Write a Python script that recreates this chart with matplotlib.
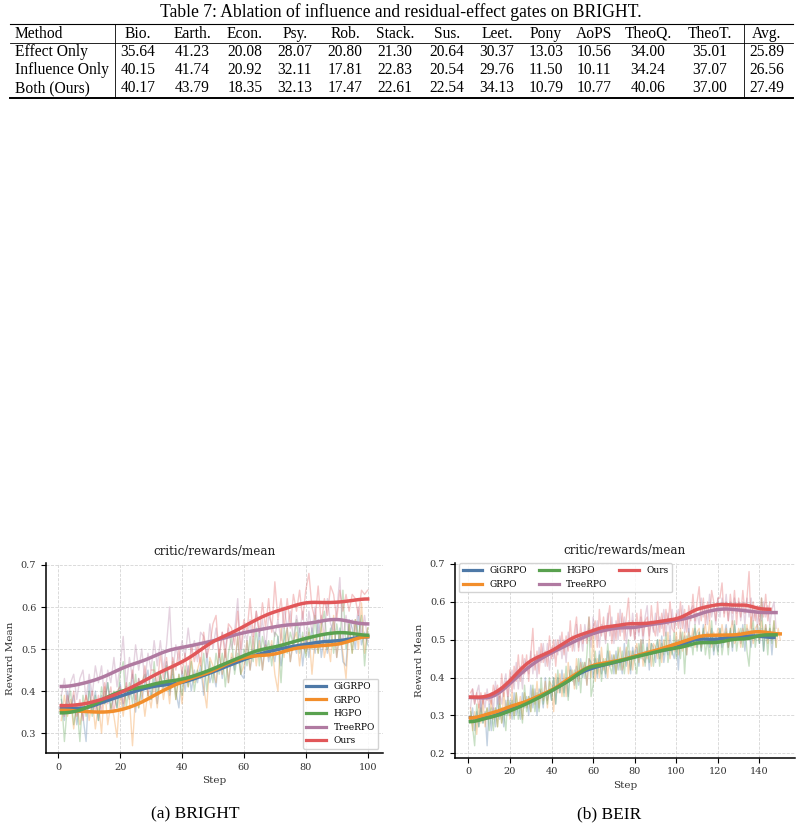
import numpy as np
import matplotlib
matplotlib.use("Agg")
import matplotlib.pyplot as plt
from matplotlib.lines import Line2D

W, H = 802, 825

# ---- Table 7 ----
table_title = "Table 7: Ablation of influence and residual-effect gates on BRIGHT."
table_cols = ["Bio.", "Earth.", "Econ.", "Psy.", "Rob.", "Stack.", "Sus.", "Leet.",
              "Pony", "AoPS", "TheoQ.", "TheoT.", "Avg."]
table_rows = ["Effect Only", "Influence Only", "Both (Ours)"]
effect_only = [35.64, 41.23, 20.08, 28.07, 20.80, 21.30, 20.64, 30.37, 13.03, 10.56, 34.00, 35.01, 25.89]
influence_only = [40.15, 41.74, 20.92, 32.11, 17.81, 22.83, 20.54, 29.76, 11.50, 10.11, 34.24, 37.07, 26.56]
both_ours = [40.17, 43.79, 18.35, 32.13, 17.47, 22.61, 22.54, 34.13, 10.79, 10.77, 40.06, 37.00, 27.49]

# ---- reward curves ----
methods = ["GiGRPO", "GRPO", "HGPO", "TreeRPO", "Ours"]
colors = ["#4e79a7", "#f28e2b", "#59a14f", "#b07aa1", "#e15759"]

# (a) BRIGHT, steps 1..100
bright_gigrpo = [0.38, 0.33, 0.40, 0.35, 0.39, 0.32, 0.37, 0.34, 0.28, 0.42,
                 0.35, 0.40, 0.33, 0.39, 0.37, 0.42, 0.35, 0.39, 0.36, 0.42,
                 0.36, 0.41, 0.38, 0.44, 0.35, 0.43, 0.38, 0.42, 0.45, 0.38,
                 0.43, 0.37, 0.44, 0.40, 0.47, 0.39, 0.44, 0.40, 0.36, 0.45,
                 0.40, 0.46, 0.40, 0.45, 0.42, 0.46, 0.39, 0.49, 0.42, 0.45,
                 0.41, 0.49, 0.43, 0.50, 0.42, 0.48, 0.45, 0.53, 0.44, 0.43,
                 0.52, 0.45, 0.50, 0.48, 0.54, 0.45, 0.52, 0.47, 0.51, 0.47,
                 0.53, 0.46, 0.52, 0.55, 0.47, 0.52, 0.49, 0.55, 0.46, 0.53,
                 0.48, 0.55, 0.49, 0.57, 0.48, 0.53, 0.49, 0.54, 0.57, 0.48,
                 0.55, 0.47, 0.46, 0.57, 0.55, 0.50, 0.58, 0.51, 0.54, 0.51]
bright_grpo = [0.33, 0.39, 0.34, 0.38, 0.31, 0.37, 0.32, 0.36, 0.39, 0.33,
               0.38, 0.31, 0.37, 0.30, 0.41, 0.32, 0.37, 0.34, 0.29, 0.40,
               0.34, 0.41, 0.38, 0.27, 0.39, 0.36, 0.41, 0.34, 0.40, 0.36,
               0.42, 0.36, 0.44, 0.38, 0.43, 0.37, 0.47, 0.38, 0.44, 0.37,
               0.45, 0.41, 0.48, 0.42, 0.45, 0.48, 0.41, 0.36, 0.48, 0.46,
               0.42, 0.50, 0.44, 0.50, 0.42, 0.49, 0.46, 0.53, 0.44, 0.46,
               0.52, 0.45, 0.53, 0.46, 0.52, 0.45, 0.51, 0.48, 0.52, 0.44,
               0.40, 0.55, 0.48, 0.55, 0.47, 0.52, 0.54, 0.46, 0.53, 0.49,
               0.54, 0.44, 0.53, 0.49, 0.56, 0.48, 0.52, 0.47, 0.58, 0.48,
               0.54, 0.49, 0.43, 0.56, 0.49, 0.57, 0.50, 0.61, 0.49, 0.55]
bright_hgpo = [0.39, 0.28, 0.37, 0.40, 0.32, 0.37, 0.28, 0.39, 0.34, 0.40,
               0.34, 0.39, 0.33, 0.41, 0.37, 0.42, 0.36, 0.40, 0.36, 0.44,
               0.47, 0.36, 0.42, 0.37, 0.44, 0.36, 0.42, 0.44, 0.39, 0.38,
               0.47, 0.39, 0.44, 0.41, 0.46, 0.40, 0.46, 0.38, 0.44, 0.39,
               0.46, 0.41, 0.47, 0.40, 0.45, 0.43, 0.49, 0.40, 0.47, 0.42,
               0.49, 0.44, 0.49, 0.41, 0.49, 0.53, 0.44, 0.49, 0.44, 0.50,
               0.46, 0.53, 0.47, 0.55, 0.46, 0.53, 0.49, 0.52, 0.46, 0.54,
               0.53, 0.42, 0.55, 0.49, 0.54, 0.51, 0.57, 0.49, 0.54, 0.48,
               0.55, 0.50, 0.58, 0.49, 0.55, 0.59, 0.50, 0.55, 0.49, 0.56,
               0.51, 0.64, 0.50, 0.56, 0.49, 0.57, 0.53, 0.58, 0.46, 0.55]
bright_treerpo = [0.39, 0.43, 0.37, 0.42, 0.44, 0.38, 0.43, 0.45, 0.38, 0.44,
                  0.39, 0.46, 0.42, 0.46, 0.38, 0.45, 0.42, 0.48, 0.41, 0.46,
                  0.53, 0.41, 0.48, 0.43, 0.51, 0.45, 0.50, 0.42, 0.49, 0.45,
                  0.52, 0.46, 0.52, 0.45, 0.51, 0.60, 0.44, 0.51, 0.47, 0.52,
                  0.48, 0.55, 0.49, 0.52, 0.47, 0.54, 0.53, 0.48, 0.56, 0.50,
                  0.55, 0.48, 0.54, 0.50, 0.55, 0.50, 0.54, 0.62, 0.48, 0.55,
                  0.52, 0.57, 0.50, 0.59, 0.53, 0.57, 0.50, 0.58, 0.56, 0.53,
                  0.57, 0.52, 0.60, 0.55, 0.59, 0.52, 0.58, 0.54, 0.59, 0.51,
                  0.59, 0.54, 0.60, 0.53, 0.58, 0.53, 0.62, 0.56, 0.54, 0.59,
                  0.67, 0.52, 0.58, 0.53, 0.57, 0.54, 0.60, 0.53, 0.58, 0.52]
bright_ours = [0.37, 0.34, 0.39, 0.35, 0.40, 0.34, 0.38, 0.33, 0.39, 0.36,
               0.40, 0.35, 0.39, 0.35, 0.42, 0.37, 0.41, 0.35, 0.40, 0.41,
               0.37, 0.42, 0.39, 0.45, 0.38, 0.43, 0.40, 0.46, 0.39, 0.45,
               0.45, 0.41, 0.49, 0.43, 0.48, 0.41, 0.48, 0.45, 0.50, 0.44,
               0.49, 0.43, 0.51, 0.47, 0.51, 0.46, 0.54, 0.48, 0.51, 0.56,
               0.58, 0.48, 0.54, 0.48, 0.56, 0.55, 0.51, 0.59, 0.50, 0.57,
               0.54, 0.62, 0.53, 0.59, 0.54, 0.61, 0.55, 0.62, 0.54, 0.66,
               0.57, 0.62, 0.55, 0.62, 0.55, 0.63, 0.59, 0.64, 0.57, 0.64,
               0.68, 0.60, 0.57, 0.65, 0.56, 0.62, 0.58, 0.65, 0.63, 0.57,
               0.64, 0.59, 0.63, 0.59, 0.63, 0.62, 0.58, 0.64, 0.63, 0.64]

# (b) BEIR, steps 1..150 (runs end at different steps)
beir_gigrpo = [0.29, 0.32, 0.26, 0.31, 0.27, 0.34, 0.28, 0.31, 0.22, 0.33,
               0.26, 0.32, 0.27, 0.35, 0.29, 0.32, 0.27, 0.34, 0.30, 0.34,
               0.29, 0.36, 0.30, 0.33, 0.29, 0.36, 0.32, 0.35, 0.30, 0.38,
               0.32, 0.37, 0.30, 0.37, 0.36, 0.32, 0.40, 0.34, 0.37, 0.34,
               0.40, 0.33, 0.40, 0.36, 0.42, 0.36, 0.40, 0.35, 0.43, 0.41,
               0.38, 0.43, 0.38, 0.45, 0.40, 0.44, 0.38, 0.45, 0.44, 0.40,
               0.45, 0.40, 0.47, 0.41, 0.44, 0.40, 0.47, 0.43, 0.46, 0.41,
               0.47, 0.42, 0.45, 0.41, 0.49, 0.43, 0.47, 0.41, 0.48, 0.45,
               0.48, 0.43, 0.50, 0.45, 0.44, 0.49, 0.42, 0.49, 0.48, 0.44,
               0.50, 0.45, 0.51, 0.44, 0.48, 0.46, 0.51, 0.47, 0.45, 0.50,
               0.42, 0.52, 0.48, 0.51, 0.46, 0.53, 0.48, 0.51, 0.53, 0.48,
               0.52, 0.47, 0.54, 0.49, 0.52, 0.48, 0.53, 0.46, 0.51, 0.47,
               0.53, 0.48, 0.51, 0.54, 0.48, 0.53, 0.47, 0.54, 0.50, 0.52,
               0.49, 0.54, 0.47, 0.53, 0.52, 0.48, 0.53, 0.50, 0.54, 0.49,
               0.53, 0.47, 0.54, 0.50, 0.53, 0.46, 0.53]
beir_grpo = [0.32, 0.26, 0.31, 0.25, 0.33, 0.28, 0.34, 0.27, 0.32, 0.29,
             0.34, 0.29, 0.32, 0.27, 0.33, 0.28, 0.36, 0.31, 0.34, 0.29,
             0.36, 0.30, 0.36, 0.32, 0.35, 0.29, 0.36, 0.32, 0.35, 0.31,
             0.37, 0.33, 0.39, 0.32, 0.37, 0.34, 0.39, 0.32, 0.39, 0.38,
             0.31, 0.41, 0.36, 0.41, 0.35, 0.41, 0.35, 0.44, 0.39, 0.42,
             0.37, 0.45, 0.39, 0.44, 0.41, 0.44, 0.38, 0.45, 0.40, 0.53,
             0.39, 0.45, 0.40, 0.48, 0.42, 0.45, 0.40, 0.47, 0.43, 0.46,
             0.41, 0.46, 0.48, 0.42, 0.44, 0.48, 0.41, 0.47, 0.42, 0.47,
             0.49, 0.44, 0.50, 0.43, 0.47, 0.45, 0.50, 0.43, 0.49, 0.48,
             0.45, 0.50, 0.44, 0.50, 0.47, 0.52, 0.45, 0.49, 0.47, 0.52,
             0.46, 0.53, 0.47, 0.52, 0.46, 0.52, 0.49, 0.53, 0.48, 0.52,
             0.53, 0.48, 0.52, 0.54, 0.49, 0.55, 0.48, 0.52, 0.49, 0.53,
             0.49, 0.54, 0.50, 0.53, 0.48, 0.52, 0.55, 0.49, 0.50, 0.53,
             0.48, 0.53, 0.50, 0.54, 0.50, 0.56, 0.49, 0.53, 0.54, 0.50,
             0.55, 0.51, 0.54, 0.49, 0.53, 0.50, 0.55, 0.48, 0.53, 0.50]
beir_hgpo = [0.31, 0.27, 0.22, 0.33, 0.27, 0.32, 0.28, 0.30, 0.32, 0.26,
             0.32, 0.26, 0.32, 0.27, 0.35, 0.28, 0.31, 0.26, 0.35, 0.30,
             0.34, 0.29, 0.36, 0.29, 0.33, 0.28, 0.38, 0.31, 0.35, 0.31,
             0.38, 0.31, 0.36, 0.31, 0.40, 0.33, 0.36, 0.33, 0.40, 0.34,
             0.40, 0.33, 0.42, 0.36, 0.39, 0.35, 0.43, 0.34, 0.42, 0.39,
             0.42, 0.37, 0.45, 0.36, 0.44, 0.40, 0.46, 0.56, 0.35, 0.38,
             0.47, 0.41, 0.46, 0.39, 0.45, 0.41, 0.49, 0.43, 0.41, 0.46,
             0.41, 0.48, 0.42, 0.47, 0.41, 0.46, 0.50, 0.42, 0.47, 0.44,
             0.41, 0.49, 0.45, 0.50, 0.43, 0.48, 0.44, 0.49, 0.43, 0.48,
             0.50, 0.43, 0.49, 0.46, 0.52, 0.44, 0.48, 0.46, 0.52, 0.45,
             0.50, 0.45, 0.52, 0.41, 0.51, 0.48, 0.51, 0.46, 0.54, 0.47,
             0.52, 0.47, 0.53, 0.46, 0.50, 0.45, 0.55, 0.47, 0.50, 0.46,
             0.53, 0.46, 0.50, 0.52, 0.46, 0.53, 0.48, 0.55, 0.47, 0.51,
             0.53, 0.48, 0.54, 0.47, 0.43, 0.52, 0.55, 0.48, 0.52, 0.49,
             0.61, 0.47, 0.53, 0.46, 0.54, 0.49, 0.55, 0.48]
beir_treerpo = [0.32, 0.37, 0.33, 0.36, 0.38, 0.31, 0.35, 0.32, 0.37, 0.33,
                0.36, 0.31, 0.39, 0.33, 0.36, 0.33, 0.38, 0.41, 0.34, 0.39,
                0.42, 0.37, 0.44, 0.37, 0.43, 0.37, 0.45, 0.43, 0.41, 0.47,
                0.41, 0.46, 0.40, 0.48, 0.44, 0.49, 0.43, 0.49, 0.42, 0.48,
                0.45, 0.50, 0.46, 0.51, 0.45, 0.50, 0.44, 0.52, 0.48, 0.51,
                0.47, 0.54, 0.48, 0.51, 0.47, 0.54, 0.50, 0.53, 0.48, 0.56,
                0.50, 0.55, 0.48, 0.54, 0.53, 0.49, 0.57, 0.51, 0.56, 0.49,
                0.55, 0.50, 0.58, 0.52, 0.56, 0.49, 0.55, 0.51, 0.57, 0.50,
                0.54, 0.51, 0.56, 0.49, 0.56, 0.59, 0.51, 0.55, 0.52, 0.57,
                0.51, 0.56, 0.53, 0.58, 0.51, 0.57, 0.51, 0.58, 0.53, 0.56,
                0.58, 0.53, 0.59, 0.52, 0.56, 0.52, 0.58, 0.59, 0.54, 0.57,
                0.54, 0.61, 0.56, 0.59, 0.54, 0.62, 0.56, 0.59, 0.54, 0.61,
                0.56, 0.61, 0.57, 0.62, 0.55, 0.60, 0.54, 0.61, 0.57, 0.60,
                0.55, 0.60, 0.54, 0.61, 0.56, 0.61, 0.55, 0.58, 0.54, 0.59,
                0.55, 0.60, 0.56, 0.59, 0.54, 0.58, 0.60, 0.53]
beir_ours = [0.36, 0.37, 0.33, 0.36, 0.32, 0.36, 0.33, 0.36, 0.34, 0.35,
             0.33, 0.38, 0.35, 0.38, 0.33, 0.41, 0.35, 0.39, 0.35, 0.42,
             0.36, 0.43, 0.39, 0.46, 0.39, 0.46, 0.41, 0.46, 0.39, 0.46,
             0.53, 0.42, 0.47, 0.41, 0.49, 0.44, 0.47, 0.43, 0.51, 0.45,
             0.50, 0.43, 0.50, 0.47, 0.52, 0.46, 0.51, 0.47, 0.55, 0.47,
             0.52, 0.56, 0.47, 0.54, 0.49, 0.52, 0.49, 0.56, 0.50, 0.53,
             0.55, 0.48, 0.58, 0.51, 0.56, 0.50, 0.55, 0.59, 0.49, 0.54,
             0.50, 0.57, 0.51, 0.57, 0.50, 0.56, 0.61, 0.51, 0.55, 0.50,
             0.57, 0.52, 0.58, 0.51, 0.55, 0.56, 0.50, 0.59, 0.53, 0.51,
             0.60, 0.52, 0.57, 0.51, 0.58, 0.54, 0.60, 0.53, 0.52, 0.57,
             0.53, 0.60, 0.53, 0.58, 0.52, 0.59, 0.55, 0.62, 0.55, 0.60,
             0.64, 0.55, 0.61, 0.54, 0.60, 0.55, 0.63, 0.60, 0.55, 0.61,
             0.61, 0.65, 0.56, 0.60, 0.55, 0.62, 0.57, 0.63, 0.54, 0.61,
             0.56, 0.63, 0.57, 0.61, 0.68, 0.53, 0.60, 0.55, 0.59, 0.54,
             0.61, 0.56, 0.62, 0.55, 0.60]

bright = [bright_gigrpo, bright_grpo, bright_hgpo, bright_treerpo, bright_ours]
beir = [beir_gigrpo, beir_grpo, beir_hgpo, beir_treerpo, beir_ours]


def smooth(y, sigma=4.5):
    # gaussian smoothing of the logged rewards (reflect at the ends)
    y = np.asarray(y, dtype=float)
    r = int(3 * sigma)
    k = np.exp(-0.5 * (np.arange(-r, r + 1) / sigma) ** 2)
    k /= k.sum()
    return np.convolve(np.pad(y, r, mode="reflect"), k, mode="valid")


def fx(px):
    return px / W


def fy(py):
    return 1 - py / H


fig = plt.figure(figsize=(W / 100, H / 100), dpi=100)

# ---- table ----
serif = "Liberation Serif"
fig.text(fx(401), fy(12), table_title, ha="center", va="center", fontsize=12.7, family=serif)
col_x = [138, 192, 245, 295, 345, 395, 447, 497, 546, 594, 648, 710, 767]
row_y = [52, 70, 88]
fs = 11.2
fig.text(fx(15), fy(34), "Method", ha="left", va="center", fontsize=fs, family=serif)
for cx, name in zip(col_x, table_cols):
    fig.text(fx(cx), fy(34), name, ha="center", va="center", fontsize=fs, family=serif)
for ry, label, vals in zip(row_y, table_rows, [effect_only, influence_only, both_ours]):
    fig.text(fx(15), fy(ry), label, ha="left", va="center", fontsize=fs, family=serif)
    for cx, v in zip(col_x, vals):
        fig.text(fx(cx), fy(ry), f"{v:.2f}", ha="center", va="center", fontsize=fs, family=serif)

for yy, lw in [(24, 0.8), (43, 0.6), (98, 1.4)]:
    fig.add_artist(Line2D([fx(10), fx(793)], [fy(yy), fy(yy)], transform=fig.transFigure,
                          color="black", lw=lw))
for xx in [115, 744]:
    fig.add_artist(Line2D([fx(xx), fx(xx)], [fy(24), fy(98)], transform=fig.transFigure,
                          color="black", lw=0.6))

# ---- curves ----
plt.rcParams["font.family"] = "DejaVu Serif"


def draw(ax, series, xlim, ylim, xticks, yticks, legend_kw):
    for y, c in zip(series, colors):
        steps = np.arange(1, len(y) + 1)
        ax.plot(steps, y, color=c, alpha=0.33, lw=1.0)
    for y, c, m in zip(series, colors, methods):
        steps = np.arange(1, len(y) + 1)
        ax.plot(steps, smooth(y), color=c, lw=2.5, label=m)
    ax.set_xlim(*xlim)
    ax.set_ylim(*ylim)
    ax.set_xticks(xticks)
    ax.set_yticks(yticks)
    ax.set_yticklabels([f"{t:.1f}" for t in yticks])
    ax.grid(True, ls="--", lw=0.6, color="#d5d5d5")
    ax.set_axisbelow(True)
    for s in ["top", "right"]:
        ax.spines[s].set_visible(False)
    for s in ["left", "bottom"]:
        ax.spines[s].set_linewidth(1.1)
    ax.tick_params(labelsize=7, length=3.5, width=0.8, labelcolor="#333333")
    ax.set_title("critic/rewards/mean", fontsize=8.6, color="#222222")
    ax.set_xlabel("Step", fontsize=7.5, color="#333333", labelpad=3)
    ax.set_ylabel("Reward Mean", fontsize=7.5, color="#333333", labelpad=4)
    leg = ax.legend(fontsize=6.5, handlelength=2.2, fancybox=True, framealpha=0.85,
                    edgecolor="#cccccc", **legend_kw)
    for h in leg.get_lines():
        h.set_linewidth(2.3)


ax1 = fig.add_axes([fx(46), fy(753.3), fx(337), 190 / H])
draw(ax1, bright, (-3.95, 104.95), (0.252, 0.704), [0, 20, 40, 60, 80, 100],
     [0.3, 0.4, 0.5, 0.6, 0.7], dict(loc="lower right"))

ax2 = fig.add_axes([fx(455), fy(757.7), fx(340), 195 / H])
draw(ax2, beir, (-6.45, 157.1), (0.1885, 0.7034), [0, 20, 40, 60, 80, 100, 120, 140],
     [0.2, 0.3, 0.4, 0.5, 0.6, 0.7],
     dict(loc="upper left", ncol=3, columnspacing=1.3, borderaxespad=0,
          bbox_to_anchor=(4 / 340, 1.0)))

fig.text(fx(195), fy(814), "(a) BRIGHT", ha="center", va="center", fontsize=12.5, family=serif)
fig.text(fx(609), fy(814), "(b) BEIR", ha="center", va="center", fontsize=12.5, family=serif)

fig.savefig("out.png", dpi=100)
